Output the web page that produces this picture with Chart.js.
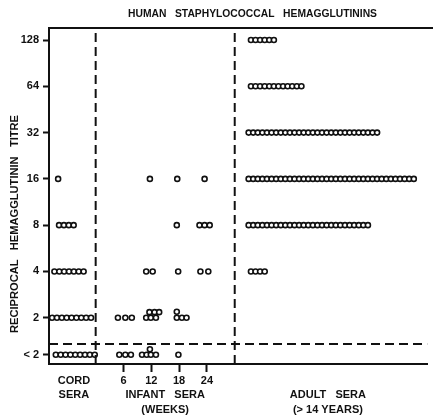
<!DOCTYPE html>
<html>
<head>
<meta charset="utf-8">
<script src="https://cdn.jsdelivr.net/npm/chart.js@4.4.1/dist/chart.umd.min.js"></script>
<style>
  html, body { margin: 0; padding: 0; background: #fff; }
  #wrap { width: 433px; height: 416px; }
</style>
</head>
<body>
<div id="wrap"><canvas id="titreChart" width="433" height="416"></canvas></div>
<script>
// titre levels (log2 steps), "< 2" sits just under the 2 line
const titreTicks  = [0.2, 1, 2, 3, 4, 5, 6, 7];
const titreLabels = ['< 2', '2', '4', '8', '16', '32', '64', '128'];

// cord sera: number of sera per titre row (< 2 ... 128) and first circle position
const cordCounts = [9, 9, 7, 4, 1, 0, 0, 0];
const cordStart  = [-8.6, -9.4, -8.9, -7.9, -8.1, 0, 0, 0];
const cordStep   = 1.05;

// adult sera (> 14 years)
const adultCounts = [0, 0, 4, 27, 37, 29, 12, 6];
const adultStart  = [0, 0, 33.5, 33, 33, 33, 33.5, 33.5];
const adultStep   = 0.99;

// infant sera, [weeks position, titre level]
const infant6  = [[4.8, 1], [6.4, 1], [7.8, 1], [5.1, 0.2], [6.4, 0.2], [7.6, 0.2]];
const infant12 = [[11.7, 4], [10.9, 2], [12.3, 2],
                  [11.6, 1.12], [12.7, 1.12], [13.7, 1.12], [10.9, 1], [11.9, 1], [13.0, 1],
                  [10.0, 0.2], [11.0, 0.2], [11.9, 0.2], [13.0, 0.2], [11.7, 0.32]];
const infant18 = [[17.6, 4], [17.5, 3], [17.8, 2], [17.5, 1.13], [17.5, 1], [18.6, 1], [19.6, 1], [17.85, 0.2]];
const infant24 = [[23.5, 4], [22.4, 3], [23.5, 3], [24.6, 3], [22.6, 2], [24.3, 2]];

// x axis labels
const xTickPos    = [-4.7, 6, 12, 15, 18, 24, 50.1];
const xTickLabels = [['CORD', 'SERA'], '6', '12', ['', 'INFANT   SERA', '(WEEKS)'], '18', '24',
                     ['', 'ADULT   SERA', '(> 14 YEARS)']];
const weekTicks   = [6, 12, 18, 24];

// separators
const groupBreaks = [0, 30];
const lowCut = 0.43;

const X_MIN = -10.07, X_MAX = 71.57, Y_MAX = 7.26;
const INK = '#111';
const FONT = '"Liberation Sans", "DejaVu Sans", sans-serif';

function rows(counts, starts, step) {
  const pts = [];
  counts.forEach((n, r) => {
    for (let i = 0; i < n; i++) pts.push({ x: starts[r] + i * step, y: titreTicks[r] });
  });
  return pts;
}
const asPts = arr => arr.map(p => ({ x: p[0], y: p[1] }));

const dots = {
  type: 'scatter',
  data: [].concat(rows(cordCounts, cordStart, cordStep), asPts(infant6), asPts(infant12),
                  asPts(infant18), asPts(infant24), rows(adultCounts, adultStart, adultStep)),
  pointStyle: 'circle', pointRadius: 2.5, pointBorderWidth: 1.6,
  pointBorderColor: INK, pointBackgroundColor: '#fff', showLine: false
};

function dashLine(pts) {
  return { type: 'line', data: pts, borderColor: INK, borderWidth: 2, borderDash: [9, 5],
           pointRadius: 0, fill: false, tension: 0 };
}
const lines = groupBreaks.map(x => dashLine([{ x: x, y: 0 }, { x: x, y: Y_MAX }]));
lines.push(dashLine([{ x: X_MIN, y: lowCut }, { x: X_MAX, y: lowCut }]));

function fitText(ctx, text, cx, cy, width, rot) {
  ctx.save();
  ctx.translate(cx, cy);
  if (rot) ctx.rotate(rot);
  const w = ctx.measureText(text).width;
  ctx.scale(width / w, 1);
  ctx.textAlign = 'center';
  ctx.textBaseline = 'middle';
  ctx.fillText(text, 0, 0);
  ctx.restore();
}

const frame = {
  id: 'frame',
  afterDraw(chart) {
    const { ctx, chartArea: a } = chart;
    ctx.save();
    ctx.strokeStyle = INK;
    ctx.lineWidth = 2;
    ctx.beginPath();
    ctx.moveTo(a.left - 1, a.top);
    ctx.lineTo(chart.width, a.top);
    ctx.stroke();
    ctx.fillStyle = INK;
    ctx.font = 'bold 10px ' + FONT;
    fitText(ctx, 'HUMAN   STAPHYLOCOCCAL   HEMAGGLUTININS', 252.5, 14, 249, 0);
    ctx.font = 'bold 11px ' + FONT;
    fitText(ctx, 'RECIPROCAL   HEMAGGLUTININ   TITRE', 14.5, 224, 218, -Math.PI / 2);
    ctx.restore();
  }
};

new Chart(document.getElementById('titreChart').getContext('2d'), {
  data: { datasets: [...lines, dots] },
  options: {
    responsive: false,
    animation: false,
    layout: { padding: { top: 28, right: 3, left: 0, bottom: 0 } },
    plugins: { legend: { display: false }, tooltip: { enabled: false }, title: { display: false } },
    scales: {
      x: {
        type: 'linear', min: X_MIN, max: X_MAX,
        afterBuildTicks: s => { s.ticks = xTickPos.map(v => ({ value: v })); },
        afterFit: s => { s.height = 52; },
        ticks: {
          autoSkip: false, maxRotation: 0, minRotation: 0, padding: 2, color: INK,
          font: { family: FONT, size: 11, weight: 'bold', lineHeight: 1.3 },
          callback: (v, i) => xTickLabels[i]
        },
        grid: {
          drawOnChartArea: false, tickLength: 8, tickWidth: 2,
          tickColor: c => (c.tick && weekTicks.includes(c.tick.value)) ? INK : 'rgba(0,0,0,0)'
        },
        border: { display: true, color: INK, width: 2 }
      },
      y: {
        type: 'linear', min: 0, max: Y_MAX,
        afterBuildTicks: s => { s.ticks = titreTicks.map(v => ({ value: v })); },
        afterFit: s => { s.width = 49; },
        ticks: {
          padding: 4, color: INK,
          font: { family: FONT, size: 11, weight: 'bold' },
          callback: (v, i) => titreLabels[i]
        },
        grid: { drawOnChartArea: false, tickLength: 6, tickWidth: 2, tickColor: INK },
        border: { display: true, color: INK, width: 2 }
      }
    }
  },
  plugins: [frame]
});
</script>
</body>
</html>
